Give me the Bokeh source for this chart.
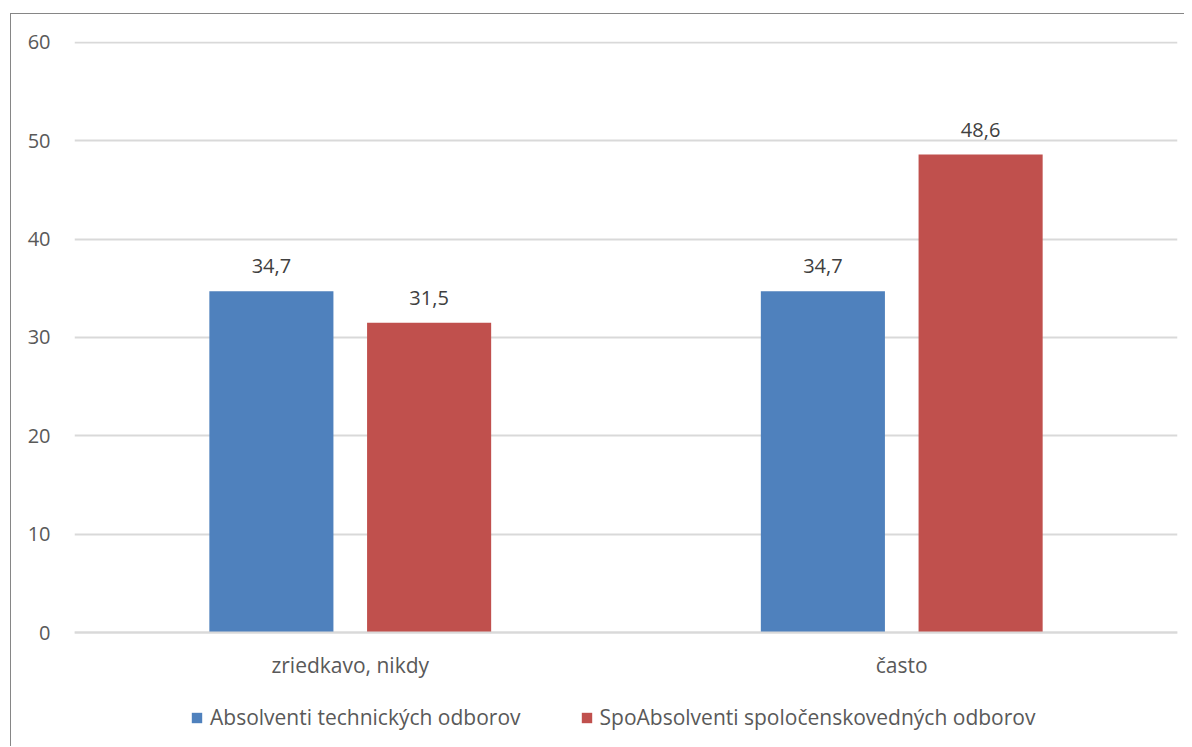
from bokeh.plotting import figure
from bokeh.models import ColumnDataSource, FactorRange, Range1d, FixedTicker, Legend, LegendItem
from bokeh.transform import dodge
from bokeh.core.properties import value
from bokeh.embed import file_html
from bokeh.resources import INLINE

categories = ["zriedkavo, nikdy", "často"]
series_names = ["Absolventi technických odborov", "SpoAbsolventi spoločenskovedných odborov"]
tech_values = [34.7, 34.7]
soc_values = [31.5, 48.6]
y_ticks = [0, 10, 20, 30, 40, 50, 60]

FONT = "Open Sans"
BLUE = "#4f81bd"
RED = "#c0504d"

src = ColumnDataSource(dict(
    cat=categories,
    tech=tech_values,
    soc=soc_values,
    tech_lbl=[f"{v:.1f}".replace(".", ",") for v in tech_values],
    soc_lbl=[f"{v:.1f}".replace(".", ",") for v in soc_values],
))

# frame extends below the zero line to host the legend; x axis is pinned at y=0
PX_PER_UNIT = 591 / 60.1
FRAME_H = 705
y_top = 60.1
y_bottom = y_top - FRAME_H / PX_PER_UNIT

p = figure(
    frame_width=1103, frame_height=FRAME_H,
    x_range=FactorRange(*categories, range_padding=0),
    y_range=Range1d(y_bottom, y_top),
    output_backend="svg", toolbar_location=None,
    min_border_left=63, min_border_right=7, min_border_top=27, min_border_bottom=0,
)
p.margin = (13, 0, 0, 10)
p.styles = {"border-top": "1px solid #868686", "border-left": "1px solid #868686"}
p.outline_line_color = None
p.background_fill_color = "white"
p.border_fill_color = "white"

off = 0.143
w = 0.225
r1 = p.vbar(x=dodge("cat", -off, range=p.x_range), top="tech", bottom=0, width=w, source=src,
            fill_color=BLUE, line_color=None)
r2 = p.vbar(x=dodge("cat", off, range=p.x_range), top="soc", bottom=0, width=w, source=src,
            fill_color=RED, line_color=None)

p.text(x=dodge("cat", -off, range=p.x_range), y="tech", text="tech_lbl", source=src,
       text_align="center", text_baseline="alphabetic", y_offset=-25,
       text_font=value(FONT), text_font_size="20px", text_color="#404040")
p.text(x=dodge("cat", off, range=p.x_range), y="soc", text="soc_lbl", source=src,
       text_align="center", text_baseline="alphabetic", y_offset=-25,
       text_font=value(FONT), text_font_size="20px", text_color="#404040")

p.yaxis.ticker = FixedTicker(ticks=y_ticks)
p.yaxis.axis_line_color = None
p.yaxis.major_tick_line_color = None
p.yaxis.minor_tick_line_color = None
p.yaxis.major_tick_out = 0
p.yaxis.major_tick_in = 0
p.yaxis.major_label_standoff = 24
p.yaxis.major_label_text_font = FONT
p.yaxis.major_label_text_font_size = "20px"
p.yaxis.major_label_text_color = "#595959"

p.xaxis.fixed_location = 0
p.xaxis.axis_line_color = "#d9d9d9"
p.xaxis.axis_line_width = 2
p.xaxis.major_tick_line_color = None
p.xaxis.minor_tick_line_color = None
p.xaxis.major_tick_out = 0
p.xaxis.major_tick_in = 0
p.xaxis.major_label_standoff = 18
p.xaxis.major_label_text_font = FONT
p.xaxis.major_label_text_font_size = "21px"
p.xaxis.major_label_text_color = "#595959"

p.xgrid.grid_line_color = None
p.ygrid.grid_line_color = "#d9d9d9"
p.ygrid.grid_line_width = 2
p.ygrid.ticker = FixedTicker(ticks=y_ticks)

legend = Legend(items=[LegendItem(label=series_names[0], renderers=[r1]),
                       LegendItem(label=series_names[1], renderers=[r2])],
                orientation="horizontal", location=(116, 15),
                border_line_color=None, background_fill_alpha=0,
                label_text_font=FONT, label_text_font_size="21px", label_text_color="#595959",
                glyph_width=13, glyph_height=13, label_standoff=7, spacing=59,
                padding=0, margin=0)
p.add_layout(legend, "center")

open("out.html", "w").write(file_html(p, INLINE))
